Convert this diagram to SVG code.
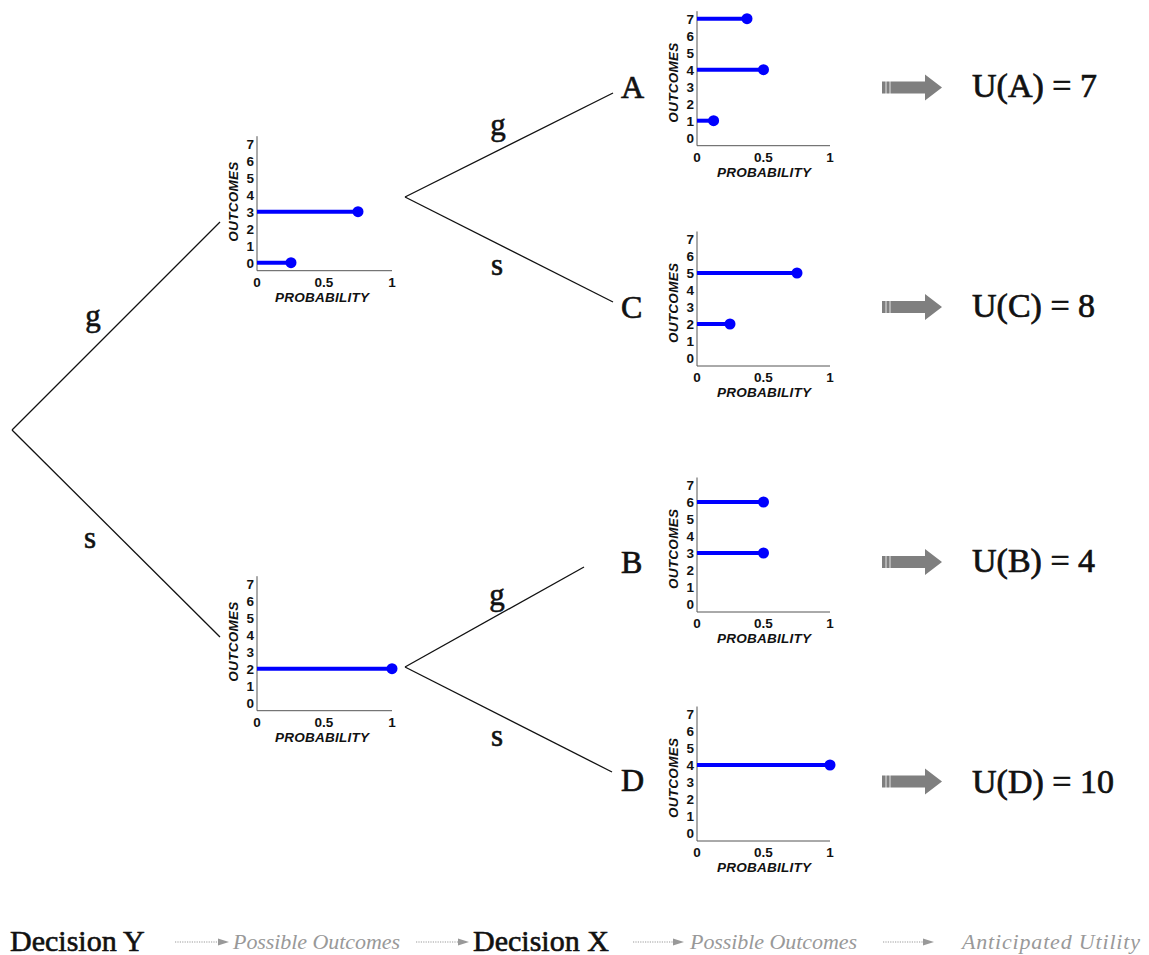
<svg xmlns="http://www.w3.org/2000/svg" width="1149" height="955" viewBox="0 0 1149 955">
<style>
.ax{stroke:#555;stroke-width:1;fill:none}
.tk{font-family:"Liberation Sans",Arial,sans-serif;font-weight:bold;font-size:13.5px;fill:#111}
.axl{font-family:"Liberation Sans",Arial,sans-serif;font-weight:bold;font-style:italic;font-size:13.5px;fill:#111}
.stem{stroke:#0000ff;stroke-width:4}
.dot{fill:#0000ff}
.br{stroke:#111;stroke-width:1.3;fill:none}
.lab{font-family:"Liberation Serif","Times New Roman",serif;font-size:31px;fill:#111;stroke:#111;stroke-width:0.6}
.node{font-family:"Liberation Serif","Times New Roman",serif;font-size:32px;fill:#111;stroke:#111;stroke-width:0.7}
.ut{font-family:"Liberation Serif","Times New Roman",serif;font-size:34px;fill:#111;stroke:#111;stroke-width:0.7}
.big{fill:#7f7f7f}
.leg{font-family:"Liberation Serif","Times New Roman",serif;font-size:30px;fill:#111;stroke:#111;stroke-width:0.6}
.legi{font-family:"Liberation Serif","Times New Roman",serif;font-style:italic;font-size:22px;fill:#999}
.dl{stroke:#999;stroke-width:1.2;stroke-dasharray:1.2 1.2}
.dh{fill:#999}
</style>

<g id="connectors">
<line class="br" x1="12" y1="430" x2="220" y2="222"/>
<line class="br" x1="12" y1="430" x2="220" y2="637"/>
<line class="br" x1="405" y1="197" x2="613" y2="93"/>
<line class="br" x1="405" y1="197" x2="613" y2="302"/>
<line class="br" x1="405" y1="667" x2="584" y2="567"/>
<line class="br" x1="405" y1="667" x2="612" y2="772"/>
<text class="lab" x="93" y="326" text-anchor="middle">g</text>
<text class="lab" x="90" y="548" text-anchor="middle">s</text>
<text class="lab" x="498" y="135" text-anchor="middle">g</text>
<text class="lab" x="497" y="275" text-anchor="middle">s</text>
<text class="lab" x="497" y="605" text-anchor="middle">g</text>
<text class="lab" x="497" y="746" text-anchor="middle">s</text>
</g>

<g id="chart-Y-g" transform="translate(257,262.7)">
<line class="ax" x1="0" y1="-126.5" x2="0" y2="8"/>
<line class="ax" x1="0" y1="8" x2="135" y2="8"/>
<text class="tk" x="-3" y="5" text-anchor="end">0</text>
<text class="tk" x="-3" y="-12" text-anchor="end">1</text>
<text class="tk" x="-3" y="-29" text-anchor="end">2</text>
<text class="tk" x="-3" y="-46" text-anchor="end">3</text>
<text class="tk" x="-3" y="-63" text-anchor="end">4</text>
<text class="tk" x="-3" y="-80" text-anchor="end">5</text>
<text class="tk" x="-3" y="-97" text-anchor="end">6</text>
<text class="tk" x="-3" y="-114" text-anchor="end">7</text>
<text class="tk" x="0" y="24" text-anchor="middle">0</text>
<text class="tk" x="67" y="24" text-anchor="middle">0.5</text>
<text class="tk" x="135" y="24" text-anchor="middle">1</text>
<text class="axl" x="65" y="39" text-anchor="middle" textLength="94">PROBABILITY</text>
<text class="axl" transform="translate(-19,-61) rotate(-90)" text-anchor="middle" textLength="80">OUTCOMES</text>
<line class="stem" x1="0" y1="-51" x2="101" y2="-51"/><circle class="dot" cx="101" cy="-51" r="5.5"/>
<line class="stem" x1="0" y1="0" x2="34" y2="0"/><circle class="dot" cx="34" cy="0" r="5.5"/>
</g>

<g id="chart-Y-s" transform="translate(257,702.7)">
<line class="ax" x1="0" y1="-126.5" x2="0" y2="8"/>
<line class="ax" x1="0" y1="8" x2="135" y2="8"/>
<text class="tk" x="-3" y="5" text-anchor="end">0</text>
<text class="tk" x="-3" y="-12" text-anchor="end">1</text>
<text class="tk" x="-3" y="-29" text-anchor="end">2</text>
<text class="tk" x="-3" y="-46" text-anchor="end">3</text>
<text class="tk" x="-3" y="-63" text-anchor="end">4</text>
<text class="tk" x="-3" y="-80" text-anchor="end">5</text>
<text class="tk" x="-3" y="-97" text-anchor="end">6</text>
<text class="tk" x="-3" y="-114" text-anchor="end">7</text>
<text class="tk" x="0" y="24" text-anchor="middle">0</text>
<text class="tk" x="67" y="24" text-anchor="middle">0.5</text>
<text class="tk" x="135" y="24" text-anchor="middle">1</text>
<text class="axl" x="65" y="39" text-anchor="middle" textLength="94">PROBABILITY</text>
<text class="axl" transform="translate(-19,-61) rotate(-90)" text-anchor="middle" textLength="80">OUTCOMES</text>
<line class="stem" x1="0" y1="-34" x2="135" y2="-34"/><circle class="dot" cx="135" cy="-34" r="5.5"/>
</g>

<g id="node-A">
<text class="node" x="621" y="98">A</text>
<g transform="translate(697,137.7)">
<line class="ax" x1="0" y1="-126.5" x2="0" y2="8"/>
<line class="ax" x1="0" y1="8" x2="133" y2="8"/>
<text class="tk" x="-3" y="5" text-anchor="end">0</text>
<text class="tk" x="-3" y="-12" text-anchor="end">1</text>
<text class="tk" x="-3" y="-29" text-anchor="end">2</text>
<text class="tk" x="-3" y="-46" text-anchor="end">3</text>
<text class="tk" x="-3" y="-63" text-anchor="end">4</text>
<text class="tk" x="-3" y="-80" text-anchor="end">5</text>
<text class="tk" x="-3" y="-97" text-anchor="end">6</text>
<text class="tk" x="-3" y="-114" text-anchor="end">7</text>
<text class="tk" x="0" y="24" text-anchor="middle">0</text>
<text class="tk" x="66.5" y="24" text-anchor="middle">0.5</text>
<text class="tk" x="133" y="24" text-anchor="middle">1</text>
<text class="axl" x="67" y="39" text-anchor="middle" textLength="94">PROBABILITY</text>
<text class="axl" transform="translate(-19,-55) rotate(-90)" text-anchor="middle" textLength="80">OUTCOMES</text>
<line class="stem" x1="0" y1="-119" x2="50" y2="-119"/><circle class="dot" cx="50" cy="-119" r="5.5"/>
<line class="stem" x1="0" y1="-68" x2="66.5" y2="-68"/><circle class="dot" cx="66.5" cy="-68" r="5.5"/>
<line class="stem" x1="0" y1="-17" x2="16.6" y2="-17"/><circle class="dot" cx="16.6" cy="-17" r="5.5"/>
</g>
<polygon class="big" points="882,81.5 925,81.5 925,74.5 942,87.5 925,100.5 925,93.5 882,93.5"/>
<line x1="886" y1="81" x2="886" y2="94" stroke="#fff" stroke-width="0.8"/>
<line x1="890" y1="81" x2="890" y2="94" stroke="#fff" stroke-width="0.8"/>
<text class="ut" x="972" y="97">U(A) = 7</text>
</g>

<g id="node-C">
<text class="node" x="621" y="318">C</text>
<g transform="translate(697,358)">
<line class="ax" x1="0" y1="-126.5" x2="0" y2="8"/>
<line class="ax" x1="0" y1="8" x2="133" y2="8"/>
<text class="tk" x="-3" y="5" text-anchor="end">0</text>
<text class="tk" x="-3" y="-12" text-anchor="end">1</text>
<text class="tk" x="-3" y="-29" text-anchor="end">2</text>
<text class="tk" x="-3" y="-46" text-anchor="end">3</text>
<text class="tk" x="-3" y="-63" text-anchor="end">4</text>
<text class="tk" x="-3" y="-80" text-anchor="end">5</text>
<text class="tk" x="-3" y="-97" text-anchor="end">6</text>
<text class="tk" x="-3" y="-114" text-anchor="end">7</text>
<text class="tk" x="0" y="24" text-anchor="middle">0</text>
<text class="tk" x="66.5" y="24" text-anchor="middle">0.5</text>
<text class="tk" x="133" y="24" text-anchor="middle">1</text>
<text class="axl" x="67" y="39" text-anchor="middle" textLength="94">PROBABILITY</text>
<text class="axl" transform="translate(-19,-55) rotate(-90)" text-anchor="middle" textLength="80">OUTCOMES</text>
<line class="stem" x1="0" y1="-85" x2="100" y2="-85"/><circle class="dot" cx="100" cy="-85" r="5.5"/>
<line class="stem" x1="0" y1="-34" x2="33" y2="-34"/><circle class="dot" cx="33" cy="-34" r="5.5"/>
</g>
<polygon class="big" points="882,301 925,301 925,294 942,307 925,320 925,313 882,313"/>
<line x1="886" y1="300.5" x2="886" y2="313.5" stroke="#fff" stroke-width="0.8"/>
<line x1="890" y1="300.5" x2="890" y2="313.5" stroke="#fff" stroke-width="0.8"/>
<text class="ut" x="972" y="317">U(C) = 8</text>
</g>

<g id="node-B">
<text class="node" x="621" y="573">B</text>
<g transform="translate(697,604)">
<line class="ax" x1="0" y1="-126.5" x2="0" y2="8"/>
<line class="ax" x1="0" y1="8" x2="133" y2="8"/>
<text class="tk" x="-3" y="5" text-anchor="end">0</text>
<text class="tk" x="-3" y="-12" text-anchor="end">1</text>
<text class="tk" x="-3" y="-29" text-anchor="end">2</text>
<text class="tk" x="-3" y="-46" text-anchor="end">3</text>
<text class="tk" x="-3" y="-63" text-anchor="end">4</text>
<text class="tk" x="-3" y="-80" text-anchor="end">5</text>
<text class="tk" x="-3" y="-97" text-anchor="end">6</text>
<text class="tk" x="-3" y="-114" text-anchor="end">7</text>
<text class="tk" x="0" y="24" text-anchor="middle">0</text>
<text class="tk" x="66.5" y="24" text-anchor="middle">0.5</text>
<text class="tk" x="133" y="24" text-anchor="middle">1</text>
<text class="axl" x="67" y="39" text-anchor="middle" textLength="94">PROBABILITY</text>
<text class="axl" transform="translate(-19,-55) rotate(-90)" text-anchor="middle" textLength="80">OUTCOMES</text>
<line class="stem" x1="0" y1="-102" x2="66.5" y2="-102"/><circle class="dot" cx="66.5" cy="-102" r="5.5"/>
<line class="stem" x1="0" y1="-51" x2="66.5" y2="-51"/><circle class="dot" cx="66.5" cy="-51" r="5.5"/>
</g>
<polygon class="big" points="882,556 925,556 925,549 942,562 925,575 925,568 882,568"/>
<line x1="886" y1="555.5" x2="886" y2="568.5" stroke="#fff" stroke-width="0.8"/>
<line x1="890" y1="555.5" x2="890" y2="568.5" stroke="#fff" stroke-width="0.8"/>
<text class="ut" x="972" y="572">U(B) = 4</text>
</g>

<g id="node-D">
<text class="node" x="621" y="791">D</text>
<g transform="translate(697,833)">
<line class="ax" x1="0" y1="-126.5" x2="0" y2="8"/>
<line class="ax" x1="0" y1="8" x2="133" y2="8"/>
<text class="tk" x="-3" y="5" text-anchor="end">0</text>
<text class="tk" x="-3" y="-12" text-anchor="end">1</text>
<text class="tk" x="-3" y="-29" text-anchor="end">2</text>
<text class="tk" x="-3" y="-46" text-anchor="end">3</text>
<text class="tk" x="-3" y="-63" text-anchor="end">4</text>
<text class="tk" x="-3" y="-80" text-anchor="end">5</text>
<text class="tk" x="-3" y="-97" text-anchor="end">6</text>
<text class="tk" x="-3" y="-114" text-anchor="end">7</text>
<text class="tk" x="0" y="24" text-anchor="middle">0</text>
<text class="tk" x="66.5" y="24" text-anchor="middle">0.5</text>
<text class="tk" x="133" y="24" text-anchor="middle">1</text>
<text class="axl" x="67" y="39" text-anchor="middle" textLength="94">PROBABILITY</text>
<text class="axl" transform="translate(-19,-55) rotate(-90)" text-anchor="middle" textLength="80">OUTCOMES</text>
<line class="stem" x1="0" y1="-68" x2="133" y2="-68"/><circle class="dot" cx="133" cy="-68" r="5.5"/>
</g>
<polygon class="big" points="882,775.5 925,775.5 925,768.5 942,781.5 925,794.5 925,787.5 882,787.5"/>
<line x1="886" y1="775" x2="886" y2="788" stroke="#fff" stroke-width="0.8"/>
<line x1="890" y1="775" x2="890" y2="788" stroke="#fff" stroke-width="0.8"/>
<text class="ut" x="972" y="793">U(D) = 10</text>
</g>

<g id="legend">
<text class="leg" x="10" y="951">Decision Y</text>
<line class="dl" x1="175" y1="942" x2="219" y2="942"/><polygon class="dh" points="218,938.5 229,942 218,945.5"/>
<text class="legi" x="233" y="949" textLength="167">Possible Outcomes</text>
<line class="dl" x1="416" y1="942" x2="459" y2="942"/><polygon class="dh" points="458,938.5 469,942 458,945.5"/>
<text class="leg" x="473" y="951">Decision X</text>
<line class="dl" x1="633" y1="942" x2="674" y2="942"/><polygon class="dh" points="673,938.5 684,942 673,945.5"/>
<text class="legi" x="690" y="949" textLength="167">Possible Outcomes</text>
<line class="dl" x1="883" y1="942" x2="924" y2="942"/><polygon class="dh" points="923,938.5 934,942 923,945.5"/>
<text class="legi" x="962" y="949" textLength="178">Anticipated Utility</text>
</g>
</svg>
